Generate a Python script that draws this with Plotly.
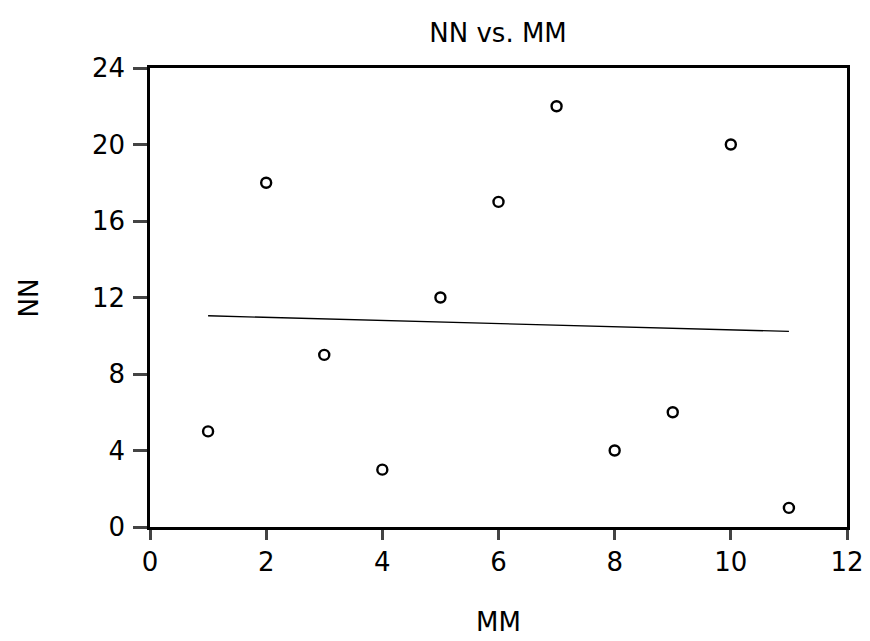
import numpy as np
import plotly.graph_objects as go

mm = [1, 2, 3, 4, 5, 6, 7, 8, 9, 10, 11]
nn = [5, 18, 9, 3, 12, 17, 22, 4, 6, 20, 1]
x_ticks = [0, 2, 4, 6, 8, 10, 12]
y_ticks = [0, 4, 8, 12, 16, 20, 24]

slope, intercept = np.polyfit(mm, nn, 1)
fit_x = [mm[0], mm[-1]]
fit_y = [intercept + slope * v for v in fit_x]

fig = go.Figure()
fig.add_trace(go.Scatter(x=fit_x, y=fit_y, mode="lines",
                         line=dict(color="black", width=1.3), showlegend=False))
fig.add_trace(go.Scatter(x=mm, y=nn, mode="markers",
                         marker=dict(symbol="circle-open", size=10, color="black",
                                     line=dict(width=2.4, color="black")),
                         showlegend=False))

fam = "DejaVu Sans, Liberation Sans, Arial, sans-serif"
font = dict(family=fam, color="black")
fig.update_layout(
    width=870, height=641,
    margin=dict(l=150, r=23, t=68, b=114, autoexpand=False),
    paper_bgcolor="white", plot_bgcolor="white",
    font=dict(**font, size=26),
    title=dict(text="NN vs. MM", x=0.5725, xanchor="center", xref="container",
               y=1 - 33 / 641, yanchor="middle", font=dict(**font, size=26)),
    xaxis=dict(range=[0, 12], tickvals=x_ticks, ticks="outside", ticklen=10, tickwidth=2.5,
               showline=True, linewidth=2.5, linecolor="black", mirror=True,
               showgrid=False, zeroline=False, tickfont=dict(**font, size=26),
               ticklabelstandoff=0, automargin=False),
    yaxis=dict(range=[0, 24], tickvals=y_ticks, ticks="outside", ticklen=14, tickwidth=2.5,
               showline=True, linewidth=2.5, linecolor="black", mirror=True,
               showgrid=False, zeroline=False, tickfont=dict(**font, size=26),
               ticklabelstandoff=3, automargin=False),
    annotations=[
        dict(text="MM", xref="paper", yref="paper", x=0.5, y=-(622 - 527) / 459,
             xanchor="center", yanchor="middle", showarrow=False,
             font=dict(**font, size=26)),
        dict(text="NN", xref="paper", yref="paper", x=-(150 - 28) / 697, y=0.5,
             xanchor="center", yanchor="middle", showarrow=False, textangle=-90,
             font=dict(**font, size=26)),
    ],
)
fig.write_html("out.html", config={"displayModeBar": False},
               post_script="document.body.style.margin='0';document.body.style.padding='0';")
